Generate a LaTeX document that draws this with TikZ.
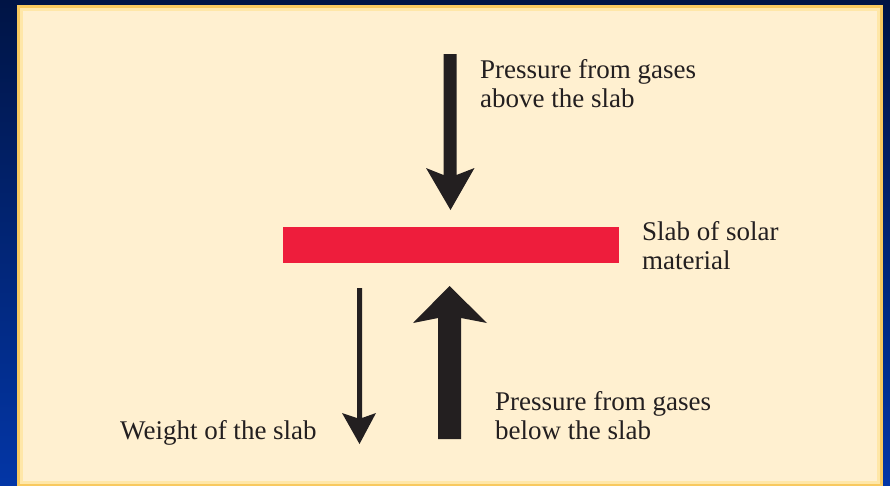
\documentclass[tikz,border=0pt]{standalone}
\usepackage{fontspec}
\setmainfont{Liberation Serif}
\definecolor{bgtop}{HTML}{001445}
\definecolor{bgbot}{HTML}{0336A6}
\definecolor{gold}{HTML}{F8C95F}
\definecolor{goldlight}{HTML}{FFE7A8}
\definecolor{cream}{HTML}{FFF0D0}
\definecolor{slabred}{HTML}{EE1D3C}
\definecolor{ink}{HTML}{231F20}
\tikzset{
  lbl/.style={inner sep=0pt, text=ink, align=left, font=\fontsize{27}{29}\selectfont},
  slabbox/.style={fill=slabred, draw=none, minimum width=336pt, minimum height=36pt, inner sep=0pt},
  arrowfill/.style={fill=ink, draw=none}
}
\begin{document}
\begin{tikzpicture}[x=1pt,y=-1pt]
\useasboundingbox (0,0) rectangle (890,485);
% background
\shade[top color=bgtop, bottom color=bgbot] (0,0) rectangle (890,485);
% panel
\fill[gold] (17,5) rectangle (883,487);
\fill[goldlight] (20,8) rectangle (880,484);
\fill[cream] (23,11) rectangle (877,481);
% slab
\node[slabbox] (slab) at (451,245) {};
% labels
\node[lbl, anchor=north west] (ptop) at (480,59) {Pressure from gases\\above the slab};
\node[lbl, anchor=north west] (slablbl) at (642,221) {Slab of solar\\material};
\node[lbl, anchor=north west] (pbot) at (495,391) {Pressure from gases\\below the slab};
\node[lbl, anchor=base west] (wlbl) at (120,439) {Weight of the slab};
% top arrow (pressure from above)
\coordinate (ttip) at (450.5,210);
\fill[arrowfill] (ttip) -- ++(-24.5,-42) -- ++(17.5,7) -- ++(0,-121) -- ++(13,0) -- ++(0,121) -- ++(18,-7) -- cycle;
% thick arrow (pressure from below)
\coordinate (btip) at (449.5,286);
\fill[arrowfill] (btip) -- ++(-36.5,37) -- ++(25,-5) -- ++(0,121) -- ++(23,0) -- ++(0,-121) -- ++(26,5) -- cycle;
% thin arrow (weight)
\coordinate (wtip) at (359.5,444);
\fill[arrowfill] (wtip) -- ++(-17.5,-31) -- ++(15,5) -- ++(0,-130) -- ++(5,0) -- ++(0,130) -- ++(14,-5) -- cycle;
\end{tikzpicture}
\end{document}
